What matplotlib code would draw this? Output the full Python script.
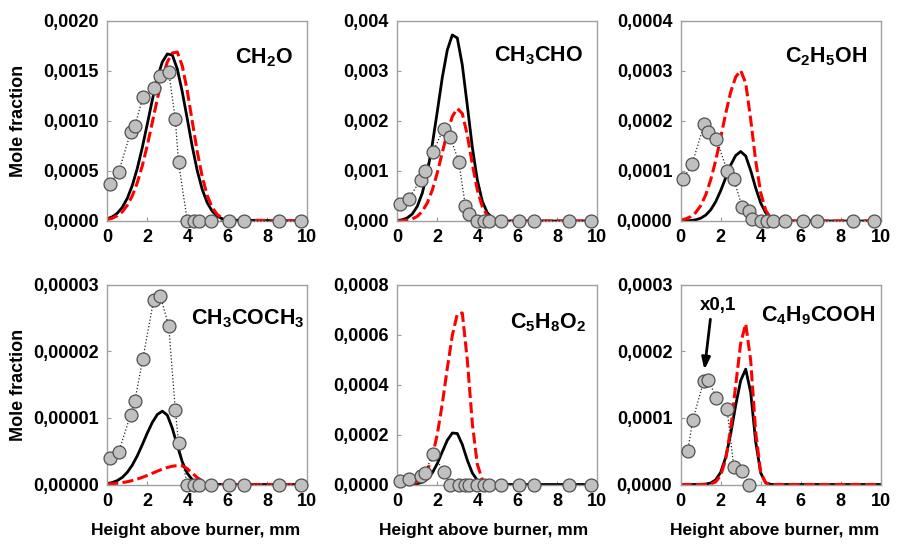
import numpy as np
import matplotlib
matplotlib.use('Agg')
import matplotlib.pyplot as plt
from matplotlib.ticker import FuncFormatter, MultipleLocator

plt.rcParams['font.family'] = ['Liberation Sans', 'DejaVu Sans']
plt.rcParams['font.weight'] = 'bold'
plt.rcParams['mathtext.fontset'] = 'custom'
plt.rcParams['mathtext.bf'] = 'Liberation Sans:bold'
plt.rcParams['mathtext.rm'] = 'Liberation Sans:bold'

nan = np.nan

# model grid (mm)
x_model = [0, 0.25, 0.5, 0.75, 1, 1.25, 1.5, 1.75, 2, 2.25, 2.5, 2.75, 3,
           3.25, 3.5, 3.75, 4, 4.25, 4.5, 4.75, 5, 5.25, 5.5, 5.75, 6, 10]

# measured heights (mm), shared by the first five species
x_meas = [0.12, 0.57, 1.17, 1.38, 1.78, 2.32, 2.65, 3.07, 3.4, 3.56,
          4.0, 4.33, 4.6, 5.2, 6.1, 6.83, 8.6, 9.67]
x_meas_acid = [0.35, 0.6, 1.15, 1.37, 1.78, 2.32, 2.65, 3.05, 3.43]

# CH2O (x1e-4)
ch2o_exp = [3.7, 4.9, 8.9, 9.5, 12.4, 13.3, 14.5, 14.9, 10.2, 5.9, 0, 0, 0, 0, 0, 0, 0, 0]
ch2o_m1 = [0.22, 0.42, 0.78, 1.37, 2.27, 3.56, 5.26, 7.35, 9.70, 12.1, 14.3, 15.9, 16.7,
           16.6, 15.2, 12.9, 10.2, 7.43, 5.01, 3.13, 1.81, 0.97, 0.48, 0.22, 0.09, 0]
ch2o_m2 = [0.14, 0.28, 0.53, 0.93, 1.57, 2.52, 3.83, 5.52, 7.56, 9.85, 12.2, 14.3, 15.9,
           16.8, 16.9, 15.5, 13.0, 9.94, 6.91, 4.39, 2.54, 1.33, 0.64, 0.28, 0.11, 0]

# CH3CHO (x1e-4)
ch3cho_exp = [3.4, 4.5, 8.2, 10.1, 13.8, 18.5, 16.8, 11.9, 3.1, 1.5, 0, 0, 0, 0, 0, 0, 0, 0]
ch3cho_m1 = [0.09, 0.25, 0.62, 1.41, 2.94, 5.59, 9.68, 15.3, 21.9, 28.7, 34.2, 37.2, 36.6,
             31.2, 23.1, 14.8, 8.22, 3.95, 1.65, 0.60, 0.19, 0.05, 0.01, 0, 0, 0]
ch3cho_m2 = [0.02, 0.06, 0.17, 0.41, 0.93, 1.93, 3.62, 6.18, 9.65, 13.7, 17.7, 20.9, 22.5,
             21.5, 17.2, 11.4, 6.25, 2.85, 1.08, 0.34, 0.09, 0.02, 0, 0, 0, 0]

# C2H5OH (x1e-5)
c2h5oh_exp = [8.4, 11.4, 19.3, 17.8, 16.4, 10.1, 8.4, 2.9, 2.0, 0.4, 0, 0, 0, 0, 0, 0, 0, 0]
c2h5oh_m1 = [0.01, 0.03, 0.09, 0.24, 0.56, 1.17, 2.23, 3.86, 6.07, 8.64, 11.2, 13.1, 13.9,
             13.0, 10.1, 6.6, 3.6, 1.64, 0.63, 0.2, 0.05, 0.01, 0, 0, 0, 0]
c2h5oh_m2 = [0.19, 0.42, 0.87, 1.69, 3.07, 5.2, 8.23, 12.1, 16.7, 21.5, 25.8, 28.8, 30.1,
             27.6, 20.3, 12.0, 5.64, 2.13, 0.64, 0.16, 0.03, 0, 0, 0, 0, 0]

# CH3COCH3 (x1e-6)
acetone_exp = [4.0, 4.9, 10.5, 12.6, 18.9, 27.7, 28.3, 23.8, 11.2, 6.3, 0, 0, 0, 0, 0, 0, 0, 0]
acetone_m1 = [0.14, 0.30, 0.59, 1.07, 1.83, 2.91, 4.31, 5.97, 7.72, 9.3, 10.5, 11.0, 10.4,
              8.45, 5.82, 3.4, 1.69, 0.71, 0.26, 0.08, 0.02, 0, 0, 0, 0, 0]
acetone_m2 = [0.07, 0.12, 0.19, 0.28, 0.42, 0.59, 0.81, 1.07, 1.36, 1.68, 2.0, 2.30, 2.55,
              2.74, 2.84, 2.80, 2.37, 1.70, 1.03, 0.53, 0.23, 0.08, 0.03, 0.01, 0, 0]

# C5H8O2 (x1e-5)
c5h8o2_exp = [1.3, 2.3, 3.6, 4.5, 12.3, 5.2, 0, 0, 0, 0, 0, 0, 0, 0, 0, 0, 0, 0]
c5h8o2_m1 = [0, 0.01, 0.03, 0.10, 0.32, 0.90, 2.2, 4.63, 8.4, 13.1, 17.7, 20.6, 20.4,
             16.0, 9.74, 4.62, 1.71, 0.49, 0.11, 0.02, 0, 0, 0, 0, 0, 0]
c5h8o2_m2 = [0.01, 0.03, 0.10, 0.33, 0.95, 2.42, 5.48, 11.1, 20.1, 32.3, 46.5, 59.6, 68.2,
             68.6, 49.8, 24.5, 8.13, 1.83, 0.28, nan, nan, nan, nan, nan, nan, nan]

# C4H9COOH (x1e-5), measured values shown x0.1
acid_exp = [5.0, 9.65, 15.5, 15.7, 13.0, 11.3, 2.65, 2.1, 0]
acid_m1 = [0, 0, 0, 0, 0.01, 0.06, 0.22, 0.70, 1.84, 4.08, 7.6, 11.9, 15.6,
           17.3, 13.8, 6.38, 1.73, 0.27, 0.02, 0, 0, 0, 0, 0, 0, 0]
acid_m2 = [0, 0, 0, 0, 0, 0.02, 0.09, 0.39, 1.36, 3.79, 8.39, 14.9, 21.2,
           24.1, 18.6, 7.83, 1.79, 0.22, 0.01, 0, 0, 0, 0, 0, 0, 0]

panels = [
    (r'CH$_\mathbf{2}$O', x_meas, ch2o_exp, ch2o_m1, ch2o_m2, 1e-4, 0.0020, 0.0005, 4, (0.93, 0.79)),
    (r'CH$_\mathbf{3}$CHO', x_meas, ch3cho_exp, ch3cho_m1, ch3cho_m2, 1e-4, 0.004, 0.001, 3, (0.93, 0.80)),
    (r'C$_\mathbf{2}$H$_\mathbf{5}$OH', x_meas, c2h5oh_exp, c2h5oh_m1, c2h5oh_m2, 1e-5, 0.0004, 0.0001, 4, (0.93, 0.795)),
    (r'CH$_\mathbf{3}$COCH$_\mathbf{3}$', x_meas, acetone_exp, acetone_m1, acetone_m2, 1e-6, 0.00003, 0.00001, 5, (0.985, 0.80)),
    (r'C$_\mathbf{5}$H$_\mathbf{8}$O$_\mathbf{2}$', x_meas, c5h8o2_exp, c5h8o2_m1, c5h8o2_m2, 1e-5, 0.0008, 0.0002, 4, (0.945, 0.78)),
    (r'C$_\mathbf{4}$H$_\mathbf{9}$COOH', x_meas_acid, acid_exp, acid_m1, acid_m2, 1e-5, 0.0003, 0.0001, 4, (0.975, 0.815)),
]

fig = plt.figure(figsize=(8.99, 5.46), dpi=100)
lefts = [107.3 / 899, 397.3 / 899, 680.7 / 899]
bottoms = [1 - 221 / 546, 1 - 484.5 / 546]
w = 200 / 899
h = 200 / 546

for i, (name, xm, ym, m1, m2, unit, top, step, dec, tpos) in enumerate(panels):
    row, col = divmod(i, 3)
    ax = fig.add_axes([lefts[col], bottoms[row], w, h])
    ax.plot(x_model, np.array(m1) * unit, color='black', lw=2.0, zorder=2)
    ax.plot(x_model, np.array(m2) * unit, color='#ff0000', lw=2.2, dashes=(3.6, 1.4), zorder=2.5)
    ax.plot(xm, np.array(ym) * unit, ls=':', color='#222222', lw=0.9, marker='o', ms=9.3,
            mfc='#c0c0c0', mec='#505050', mew=0.9, zorder=3, clip_on=False)
    ax.set_xlim(0, 10)
    ax.set_ylim(0, top)
    ax.xaxis.set_major_locator(MultipleLocator(2))
    ax.yaxis.set_major_locator(MultipleLocator(step))
    ax.yaxis.set_major_formatter(FuncFormatter(lambda v, p, d=dec: f'{v:.{d}f}'.replace('.', ',')))
    ax.tick_params(labelsize=13, length=3, direction='in', color='#999999', pad=6)
    for s in ax.spines.values():
        s.set_color('#a0a0a0')
        s.set_linewidth(1.0)
    ax.text(tpos[0], tpos[1], name, transform=ax.transAxes, ha='right', va='baseline',
            fontsize=15.5, fontweight='bold')
    if col == 0:
        ax.set_ylabel('Mole fraction', fontsize=13, fontweight='bold')
        ax.yaxis.set_label_coords(-0.40, 0.5)
    if row == 1:
        ax.set_xlabel('Height above burner, mm', fontsize=12.5, fontweight='bold')
        ax.xaxis.set_label_coords([0.44, 0.43, 0.47][col], -0.19)
    if i == 5:
        ax.text(1.88, 0.000268, 'x0,1', ha='center', va='center', fontsize=13.5, fontweight='bold')
        ax.annotate('', xy=(1.17, 0.000168), xytext=(1.5, 0.000252),
                    arrowprops=dict(arrowstyle='-|>,head_length=0.7,head_width=0.25',
                                    color='black', lw=2))

fig.savefig('out.png', dpi=100)
